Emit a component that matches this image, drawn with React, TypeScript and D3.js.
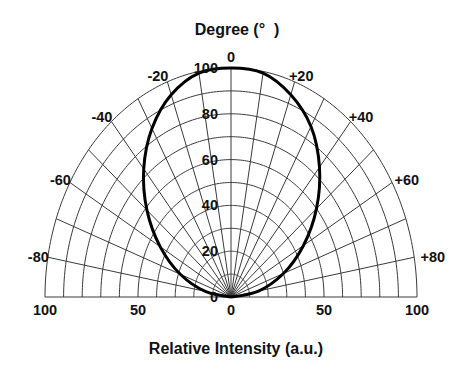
import React from "react";
import * as d3 from "d3";

const W = 471;
const H = 371;

// Polar data: angle (deg) and relative intensity
const angles = [-90, -80, -70, -60, -50, -40, -30, -20, -10, 0, 10, 20, 30, 40, 50, 60, 70, 80, 90];
const intensity = [0, 14, 29, 44, 59, 73, 85, 94, 99.3, 100, 99.3, 94, 86, 74, 60, 45, 30, 15, 0];

const ringValues = [10, 20, 30, 40, 50, 60, 70, 80, 90, 100];
const radialLabels = [0, 20, 40, 60, 80, 100];
const spokeAngles = d3.range(-90, 91, 10);
const angleLabels = [-80, -60, -40, -20, 0, 20, 40, 60, 80];
const baseTicks = [-100, -50, 0, 50, 100];

const titleTop = "Degree (°  )";
const titleBottom = "Relative Intensity (a.u.)";

const cx = 231;
const cy = 297;
const xScale = d3.scaleLinear().domain([-100, 100]).range([cx - 186, cx + 186]);
const yScale = d3.scaleLinear().domain([0, 100]).range([cy, cy - 229]);

const rad = (d: number) => (d * Math.PI) / 180;
const px = (r: number, a: number) => xScale(r * Math.sin(rad(a)));
const py = (r: number, a: number) => yScale(r * Math.cos(rad(a)));

const font = "'Liberation Sans', Arial, Helvetica, sans-serif";
const gridColor = "#3a3a3a";

export default function App() {
  const lineGen = d3
    .line<[number, number]>()
    .x((d) => d[0])
    .y((d) => d[1]);

  const ringPaths = ringValues.map((r) =>
    lineGen(d3.range(-90, 90.5, 1).map((a) => [px(r, a), py(r, a)] as [number, number]))
  );

  const curvePts = angles.map((a, i) => [px(intensity[i], a), py(intensity[i], a)] as [number, number]);
  const curvePath = d3
    .line<[number, number]>()
    .x((d) => d[0])
    .y((d) => d[1])
    .curve(d3.curveCatmullRom.alpha(0.5))(curvePts);

  return (
    <svg width={W} height={H} style={{ position: "absolute", left: 0, top: 0, background: "#fff" }}>
      <rect x={0} y={0} width={W} height={H} fill="#fff" />
      {/* rings */}
      {ringPaths.map((p, i) => (
        <path key={"r" + i} d={p || ""} fill="none" stroke={gridColor} strokeWidth={1} />
      ))}
      {/* spokes */}
      {spokeAngles.map((a) => (
        <line
          key={"s" + a}
          x1={px(0, a)}
          y1={py(0, a)}
          x2={px(100, a)}
          y2={py(100, a)}
          stroke={gridColor}
          strokeWidth={1}
        />
      ))}
      {/* curve */}
      <path d={curvePath || ""} fill="none" stroke="#000" strokeWidth={3} strokeLinejoin="round" />

      {/* radial labels */}
      {radialLabels.map((v) => (
        <text
          key={"rl" + v}
          x={cx - 13}
          y={yScale(v) + 5}
          textAnchor="end"
          fontFamily={font}
          fontWeight="bold"
          fontSize={14.5}
          fill="#111"
        >
          {v}
        </text>
      ))}

      {/* angle labels */}
      {angleLabels.map((a) => {
        const xe = px(100, a);
        const ye = py(100, a);
        const s = Math.sin(rad(Math.abs(a)));
        const c = Math.cos(rad(Math.abs(a)));
        if (a === 0) {
          return (
            <text key={"al" + a} x={xe} y={ye - 6} textAnchor="middle" fontFamily={font} fontWeight="bold" fontSize={14.5} fill="#111">
              0
            </text>
          );
        }
        const label = a > 0 ? "+" + a : String(a);
        const yb = ye + 5 * s - 3 * c;
        const xl = a < 0 ? xe + 1 : xe + 8 * s - 9 * c;
        return (
          <text
            key={"al" + a}
            x={xl}
            y={yb}
            textAnchor={a < 0 ? "end" : "start"}
            fontFamily={font}
            fontWeight="bold"
            fontSize={14.5}
            fill="#111"
          >
            {label}
          </text>
        );
      })}

      {/* base ticks */}
      {baseTicks.map((v) => (
        <text
          key={"b" + v}
          x={xScale(v)}
          y={cy + 18}
          textAnchor="middle"
          fontFamily={font}
          fontWeight="bold"
          fontSize={14.5}
          fill="#111"
        >
          {Math.abs(v)}
        </text>
      ))}

      <text x={237} y={35} textAnchor="middle" fontFamily={font} fontWeight="bold" fontSize={16} fill="#111" style={{ whiteSpace: "pre" }}>
        {titleTop}
      </text>
      <text x={236} y={354} textAnchor="middle" fontFamily={font} fontWeight="bold" fontSize={16} fill="#111">
        {titleBottom}
      </text>
    </svg>
  );
}
